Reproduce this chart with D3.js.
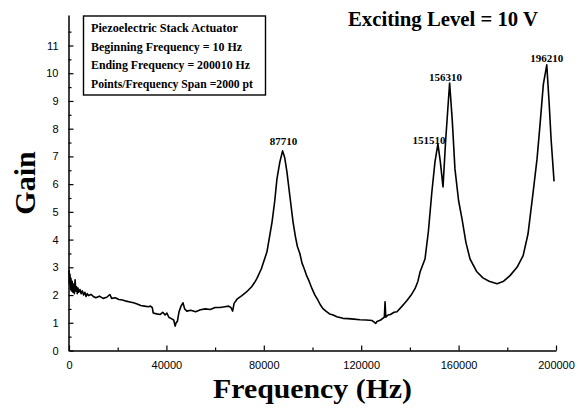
<!DOCTYPE html>
<html>
<head>
<meta charset="utf-8">
<script src="https://cdn.jsdelivr.net/npm/d3@7"></script>
<style>
  body { margin: 0; background: #fff; }
  #main { width: 580px; height: 411px; }
</style>
</head>
<body>
<div id="main"></div>
<script>
// frequency response (Hz, gain)
const freq = [
  0, 200, 400, 600, 800, 1000, 1300, 1600, 1900, 2200, 2500, 2800, 3100, 3400, 3700,
  4000, 4500, 5000, 5500, 6000, 6500, 7000, 7500, 8000, 9000, 10000,
  11000, 12500, 14000, 15500, 16800, 17500, 19000, 20500, 22000, 23500, 25000, 26500,
  28000, 29500, 31000, 32500, 33500, 34200, 34600, 36000, 37500, 38500, 39500, 40200,
  41000, 42000, 43000, 43600, 44000, 44500, 45200, 46000, 46800, 47500, 48400, 50000,
  52000, 54000, 56000, 58000, 60000, 62000, 64000, 65500, 66500, 67200, 67800, 69000,
  71000, 73000, 75000, 76200, 77200, 79000, 81300, 83400, 84500, 85400, 86600, 87710,
  88600, 89500, 90800, 92000, 93000, 93800, 94800, 95700, 96600, 97500, 98600, 99800,
  101000, 102000, 103200, 104300, 105500, 107000, 108500, 110000, 112500, 114600,
  117000, 119500, 122000, 124500, 126000, 126500, 128000, 129500, 129800, 130100,
  131000, 132000, 133500, 134700, 136800, 138000, 138800, 140500, 142100, 143300,
  144200, 146200, 147600, 149000, 150300, 151510, 152500, 153600, 154700, 156310,
  157400, 158500, 160000, 161400, 163000, 164700, 167500, 170000, 172500, 175800,
  178500, 181100, 184000, 186500, 188500, 190600, 192200, 193400, 194800, 196210,
  197200, 198000, 199200
];
const gain = [
  2.9, 2.4, 2.75, 2.2, 2.6, 2.15, 2.5, 2.1, 2.4, 2.05, 2.55, 2.15, 2.3, 2.05, 2.25,
  2.1, 2.2, 2.05, 2.15, 2.0, 2.1, 1.95, 2.05, 1.98, 2.02, 1.95,
  1.9, 1.96, 1.88, 1.92, 2.02, 1.88, 1.9, 1.84, 1.82, 1.78, 1.75, 1.72,
  1.68, 1.62, 1.6, 1.58, 1.6, 1.55, 1.35, 1.32, 1.3, 1.38, 1.28, 1.35,
  1.2, 1.15, 1.1, 0.88, 1.0, 1.05, 1.4, 1.6, 1.72, 1.5, 1.42, 1.45,
  1.4, 1.47, 1.5, 1.48, 1.55, 1.55, 1.58, 1.6, 1.55, 1.42, 1.7, 1.85,
  1.98, 2.12, 2.3, 2.45, 2.6, 2.95, 3.56, 4.64, 5.4, 6.19, 6.8, 7.2,
  6.95, 6.44, 5.5, 4.64, 4.1, 3.75, 3.5, 3.15, 2.95, 2.72, 2.5, 2.23,
  2.0, 1.85, 1.65, 1.51, 1.42, 1.32, 1.28, 1.22, 1.16, 1.15,
  1.13, 1.11, 1.1, 1.08, 0.98, 1.05, 1.1, 1.2, 1.76, 1.2,
  1.28, 1.3, 1.38, 1.4, 1.6, 1.72, 1.8, 2.0, 2.23, 2.5,
  2.84, 3.3, 4.3, 5.7, 6.8, 7.45, 6.8, 5.9, 7.6, 9.65,
  8.3, 6.55, 5.4, 4.75, 3.9, 3.3, 2.84, 2.62, 2.5, 2.41,
  2.5, 2.7, 3.0, 3.42, 4.2, 5.7, 6.9, 8.1, 9.6, 10.3,
  8.9, 7.6, 6.1
];

// labelled resonance peaks
const peakFreq = [87710, 151510, 156310, 196210];
const peakGain = [7.2, 7.45, 9.65, 10.3];

const xTicks = [0, 40000, 80000, 120000, 160000, 200000];
const yTicks = [0, 1, 2, 3, 4, 5, 6, 7, 8, 9, 10, 11];

const infoLines = [
  "Piezoelectric Stack Actuator",
  "Beginning Frequency = 10 Hz",
  "Ending Frequency = 200010 Hz",
  "Points/Frequency Span =2000 pt"
];
const infoWidths = [147, 151, 159, 162];

const serif = "'Liberation Serif', 'Times New Roman', serif";
const sans = "'Liberation Sans', Arial, sans-serif";

function drawChart() {
    const svg = d3.select("#main").append("svg")
        .attr("width", 580)
        .attr("height", 411);

    const x = d3.scaleLinear().domain([0, 200000]).range([69, 556]);
    const y = d3.scaleLinear().domain([0, 12.1]).range([350.5, 15]);

    // minor ticks first, then the labelled ones
    svg.append("g")
        .attr("transform", "translate(0,350.5)")
        .call(d3.axisBottom(x).tickValues(d3.range(20000, 200000, 40000)).tickSize(-3).tickSizeOuter(0).tickFormat(""))
        .call(g => g.select(".domain").remove());
    svg.append("g")
        .attr("transform", "translate(68.5,0)")
        .call(d3.axisLeft(y).tickValues(d3.range(0.5, 12, 1)).tickSize(-3).tickSizeOuter(0).tickFormat(""))
        .call(g => g.select(".domain").remove());

    const xAxis = svg.append("g")
        .attr("transform", "translate(0,350.5)")
        .call(d3.axisBottom(x).tickValues(xTicks).tickSize(-5).tickSizeOuter(0).tickPadding(11).tickFormat(d3.format("d")));
    const yAxis = svg.append("g")
        .attr("transform", "translate(68.5,0)")
        .call(d3.axisLeft(y).tickValues(yTicks).tickSize(-5).tickSizeOuter(0).tickPadding(10).tickFormat(d3.format("d")));

    [xAxis, yAxis].forEach(g => {
        g.selectAll("text").attr("font-family", sans).attr("font-size", 11).attr("fill", "#000");
        g.selectAll("line, path").attr("stroke", "#000").attr("stroke-width", 1.5);
    });
    svg.selectAll(".tick line").attr("stroke", "#000").attr("stroke-width", 1.2);

    // the measured curve
    const pts = freq.map((f, i) => [f, gain[i]]);
    svg.append("path")
        .datum(pts)
        .attr("fill", "none")
        .attr("stroke", "#000")
        .attr("stroke-width", 1.6)
        .attr("stroke-linejoin", "round")
        .attr("d", d3.line().x(d => x(d[0])).y(d => y(d[1])));

    // peak labels (151510 sits a bit to the left of its peak)
    const nudge = {151510: [-9, 0], 156310: [-4, -2], 87710: [1, -6], 196210: [0, -3]};
    svg.selectAll(".peak")
        .data(peakFreq)
        .enter().append("text")
        .attr("x", d => x(d) + nudge[d][0])
        .attr("y", (d, i) => y(peakGain[i]) + nudge[d][1])
        .attr("text-anchor", "middle")
        .attr("font-family", serif)
        .attr("font-weight", "bold")
        .attr("font-size", 11)
        .text(d => d);

    // info box
    svg.append("rect")
        .attr("x", 83.5).attr("y", 16)
        .attr("width", 182).attr("height", 79)
        .attr("fill", "#fff")
        .attr("stroke", "#000")
        .attr("stroke-width", 1.4);
    svg.selectAll(".info")
        .data(infoLines)
        .enter().append("text")
        .attr("x", 91)
        .attr("y", (d, i) => 32 + i * 18.5)
        .attr("font-family", serif)
        .attr("font-weight", "bold")
        .attr("font-size", 12)
        .attr("textLength", (d, i) => infoWidths[i])
        .attr("lengthAdjust", "spacingAndGlyphs")
        .text(d => d);

    svg.append("text")
        .attr("x", 443).attr("y", 26)
        .attr("text-anchor", "middle")
        .attr("font-family", serif)
        .attr("font-weight", "bold")
        .attr("font-size", 20)
        .attr("textLength", 190)
        .attr("lengthAdjust", "spacingAndGlyphs")
        .text("Exciting Level = 10 V");

    // axis titles
    svg.append("text")
        .attr("x", 312.5).attr("y", 398)
        .attr("text-anchor", "middle")
        .attr("font-family", serif)
        .attr("font-weight", "bold")
        .attr("font-size", 27)
        .attr("textLength", 199)
        .attr("lengthAdjust", "spacingAndGlyphs")
        .text("Frequency (Hz)");

    svg.append("text")
        .attr("transform", "translate(35,183) rotate(-90)")
        .attr("text-anchor", "middle")
        .attr("font-family", serif)
        .attr("font-weight", "bold")
        .attr("font-size", 30)
        .text("Gain");
}

document.addEventListener("DOMContentLoaded", drawChart);
</script>
</body>
</html>
